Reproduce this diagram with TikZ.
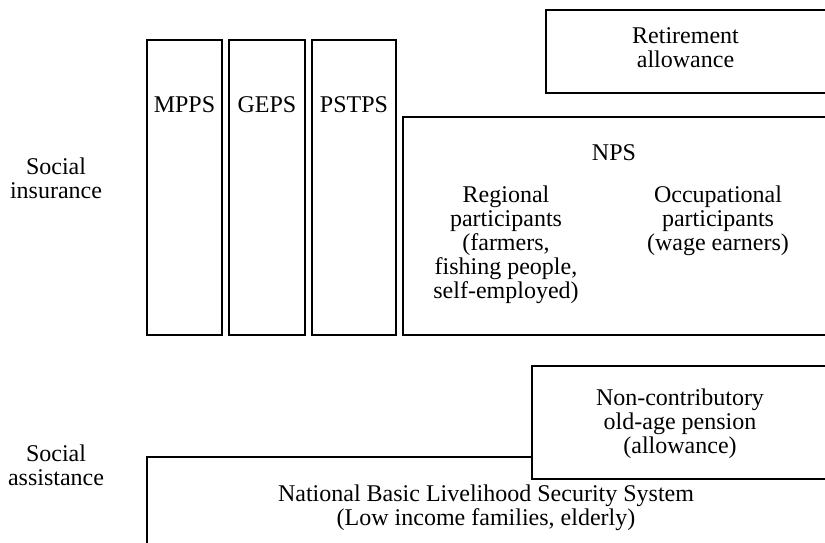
\documentclass[tikz,border=0pt]{standalone}
\usepackage{fontspec}
\setmainfont{Liberation Serif}
\usetikzlibrary{fit}
\tikzset{
	box/.style={draw, line width=0.8pt, inner sep=0pt},
	lbl/.style={align=center, inner sep=0pt, font=\fontsize{12pt}{12pt}\selectfont}
}
\begin{document}
\begin{tikzpicture}[x=0.5pt,y=-0.5pt]
	\clip (0,0) rectangle (825,542);
	% pension schemes (left columns)
	\node[box, fit={(147,40) (222,335)}] (mpps) {};
	\node[box, fit={(229,40) (305,335)}] (geps) {};
	\node[box, fit={(312,40) (396,335)}] (pstps) {};
	\node[lbl] (mppsname) at (184.5,105) {MPPS};
	\node[lbl] (gepsname) at (267,105) {GEPS};
	\node[lbl] (pstpsname) at (354,105) {PSTPS};
	% right part, open to the edge
	\node[box, fit={(546,10) (835,93)}] (retire) {};
	\node[lbl] (retirename) at (685.5,48) {Retirement\\allowance};
	\node[box, fit={(403,117) (835,335)}] (nps) {};
	\node[lbl] (npsname) at (614,153) {NPS};
	\node[lbl] (regional) at (506,245) {Regional\\participants\\(farmers,\\fishing people,\\self-employed)};
	\node[lbl] (occup) at (718,221) {Occupational\\participants\\(wage earners)};
	% social assistance
	\node[box, fit={(147,457) (835,560)}] (nbls) {};
	\node[box, fit={(532,366) (835,479)}, fill=white] (noncon) {};
	\node[lbl] (nonconname) at (680,424) {Non-contributory\\old-age pension\\(allowance)};
	\node[lbl] (nblsname) at (486,508) {National Basic Livelihood Security System\\(Low income families, elderly)};
	% row labels
	\node[lbl] (insur) at (56,178) {Social\\insurance};
	\node[lbl] (assist) at (56,465) {Social\\assistance};
\end{tikzpicture}
\end{document}
